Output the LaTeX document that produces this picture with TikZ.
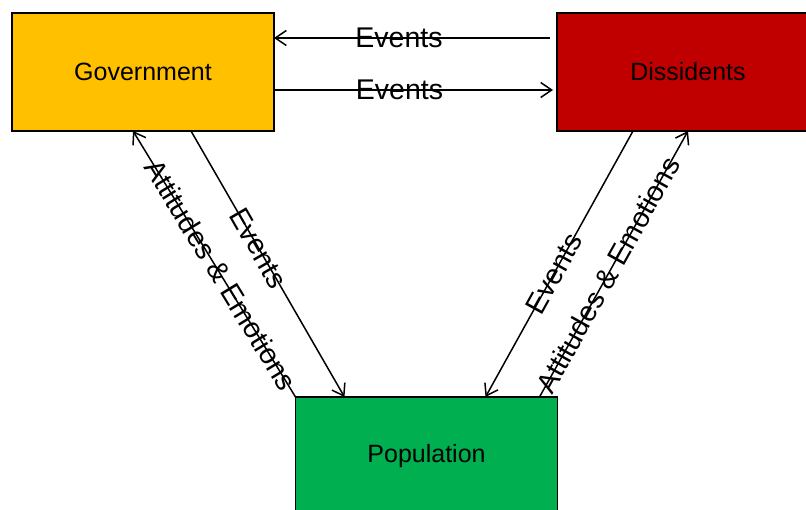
\documentclass[tikz,border=0pt]{standalone}
\usepackage{fontspec}
\setmainfont{Liberation Sans}
\usetikzlibrary{arrows.meta,calc}
\definecolor{govyellow}{HTML}{FFC000}
\definecolor{dissred}{HTML}{C00000}
\definecolor{popgreen}{HTML}{00B050}
\begin{document}
\begin{tikzpicture}[x=1pt,y=-1pt,
  box/.style={draw=black, line width=1.5pt, minimum width=262pt, minimum height=118pt,
    inner sep=0pt, outer sep=0pt, font=\fontsize{25}{30}\selectfont},
  conn/.style={line width=1.5pt, -{Straight Barb[length=11pt,width=15pt]}},
  lab/.style={font=\fontsize{28.5}{34}\selectfont, inner sep=0pt}]
\useasboundingbox (0,0) rectangle (806,510);
\clip (0,0) rectangle (806,510);
\node[box, fill=govyellow] (gov) at (143,72) {Government};
\node[box, fill=dissred] (diss) at (688,72) {Dissidents};
\node[box, fill=popgreen] (pop) at (426.5,456) {Population};
\draw[conn] ($(diss.west)+(-7,-34)$) -- node[lab,pos=0.547]{Events} ($(gov.east)+(0,-34)$);
\draw[conn] ($(gov.east)+(0,18)$) -- node[lab,pos=0.45]{Events} ($(diss.west)+(-4,18)$);
\draw[conn] (pop.north west) -- node[lab,sloped,pos=0.46]{Attitudes \& Emotions} ($(gov.south west)+(121,0)$);
\draw[conn] ($(gov.south west)+(179,0)$) -- node[lab,sloped,pos=0.44]{Events} ($(pop.north west)+(49,0)$);
\draw[conn] ($(diss.south west)+(76,0)$) -- node[lab,sloped,pos=0.536]{Events} ($(pop.north west)+(190,0)$);
\draw[conn] ($(pop.north west)+(244,0)$) -- node[lab,sloped,pos=0.46]{Attitudes \& Emotions} (diss.south);
\end{tikzpicture}
\end{document}
